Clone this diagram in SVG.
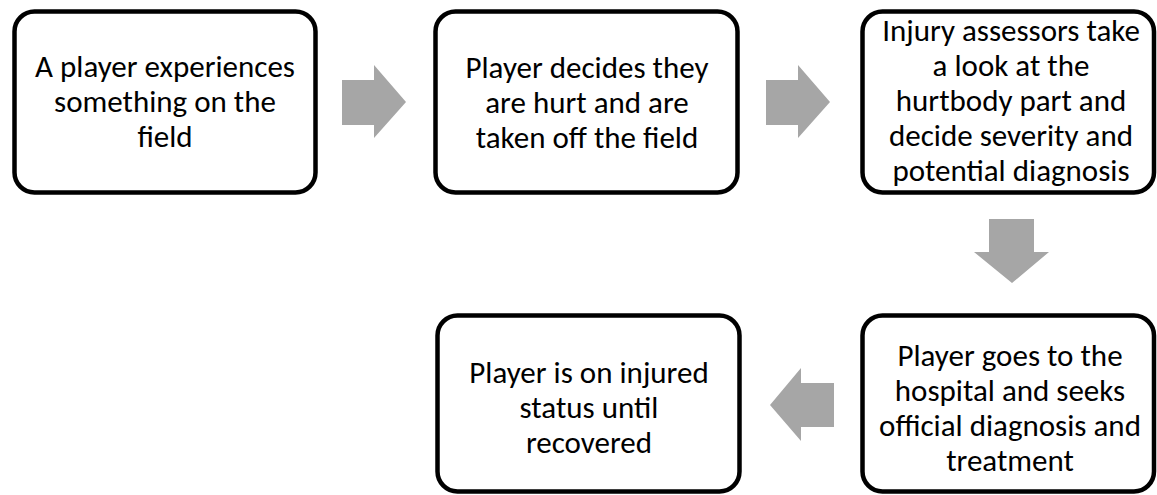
<svg xmlns="http://www.w3.org/2000/svg" width="1157" height="495" viewBox="0 0 1157 495">
<style>
.box{fill:#fff;stroke:#000;stroke-width:4.5}
.lbl{font-family:"Carlito","Lato","Liberation Sans",sans-serif;font-size:31px;fill:#000;text-anchor:middle}
.arr{fill:#a6a6a6}
</style>
<rect width="1157" height="495" fill="#fff"/>
<g id="connectors">
<polygon class="arr" points="342,80 374,80 374,65 406,102 374,138 374,125 342,125"/>
<polygon class="arr" points="766,80 798,80 798,65 830,102 798,138 798,125 766,125"/>
<polygon class="arr" points="989,219 1034,219 1034,252 1049,252 1012,283 974,252 989,252"/>
<polygon class="arr" points="834,383 801,383 801,368 770,405 801,441 801,427 834,427"/>
</g>
<g id="n1">
<rect class="box" x="14.5" y="11.5" width="301" height="181" rx="20"/>
<text class="lbl" x="165" y="77">A player experiences</text>
<text class="lbl" x="165" y="112">something on the</text>
<text class="lbl" x="165" y="147">field</text>
</g>
<g id="n2">
<rect class="box" x="435.5" y="11.5" width="302" height="181" rx="20"/>
<text class="lbl" x="587" y="78">Player decides they</text>
<text class="lbl" x="587" y="113">are hurt and are</text>
<text class="lbl" x="587" y="148">taken off the field</text>
</g>
<g id="n3">
<rect class="box" x="862.5" y="11.5" width="291.5" height="181" rx="20"/>
<text class="lbl" x="1011" y="41">Injury assessors take</text>
<text class="lbl" x="1011" y="76">a look at the</text>
<text class="lbl" x="1011" y="111">hurtbody part and</text>
<text class="lbl" x="1011" y="146">decide severity and</text>
<text class="lbl" x="1011" y="181">potential diagnosis</text>
</g>
<g id="n4">
<rect class="box" x="437.5" y="315.5" width="302" height="176" rx="20"/>
<text class="lbl" x="589" y="383">Player is on injured</text>
<text class="lbl" x="589" y="418">status until</text>
<text class="lbl" x="589" y="453">recovered</text>
</g>
<g id="n5">
<rect class="box" x="862.5" y="315.5" width="291.5" height="176" rx="20"/>
<text class="lbl" x="1010" y="366">Player goes to the</text>
<text class="lbl" x="1010" y="401">hospital and seeks</text>
<text class="lbl" x="1010" y="436">official diagnosis and</text>
<text class="lbl" x="1010" y="471">treatment</text>
</g>
</svg>
